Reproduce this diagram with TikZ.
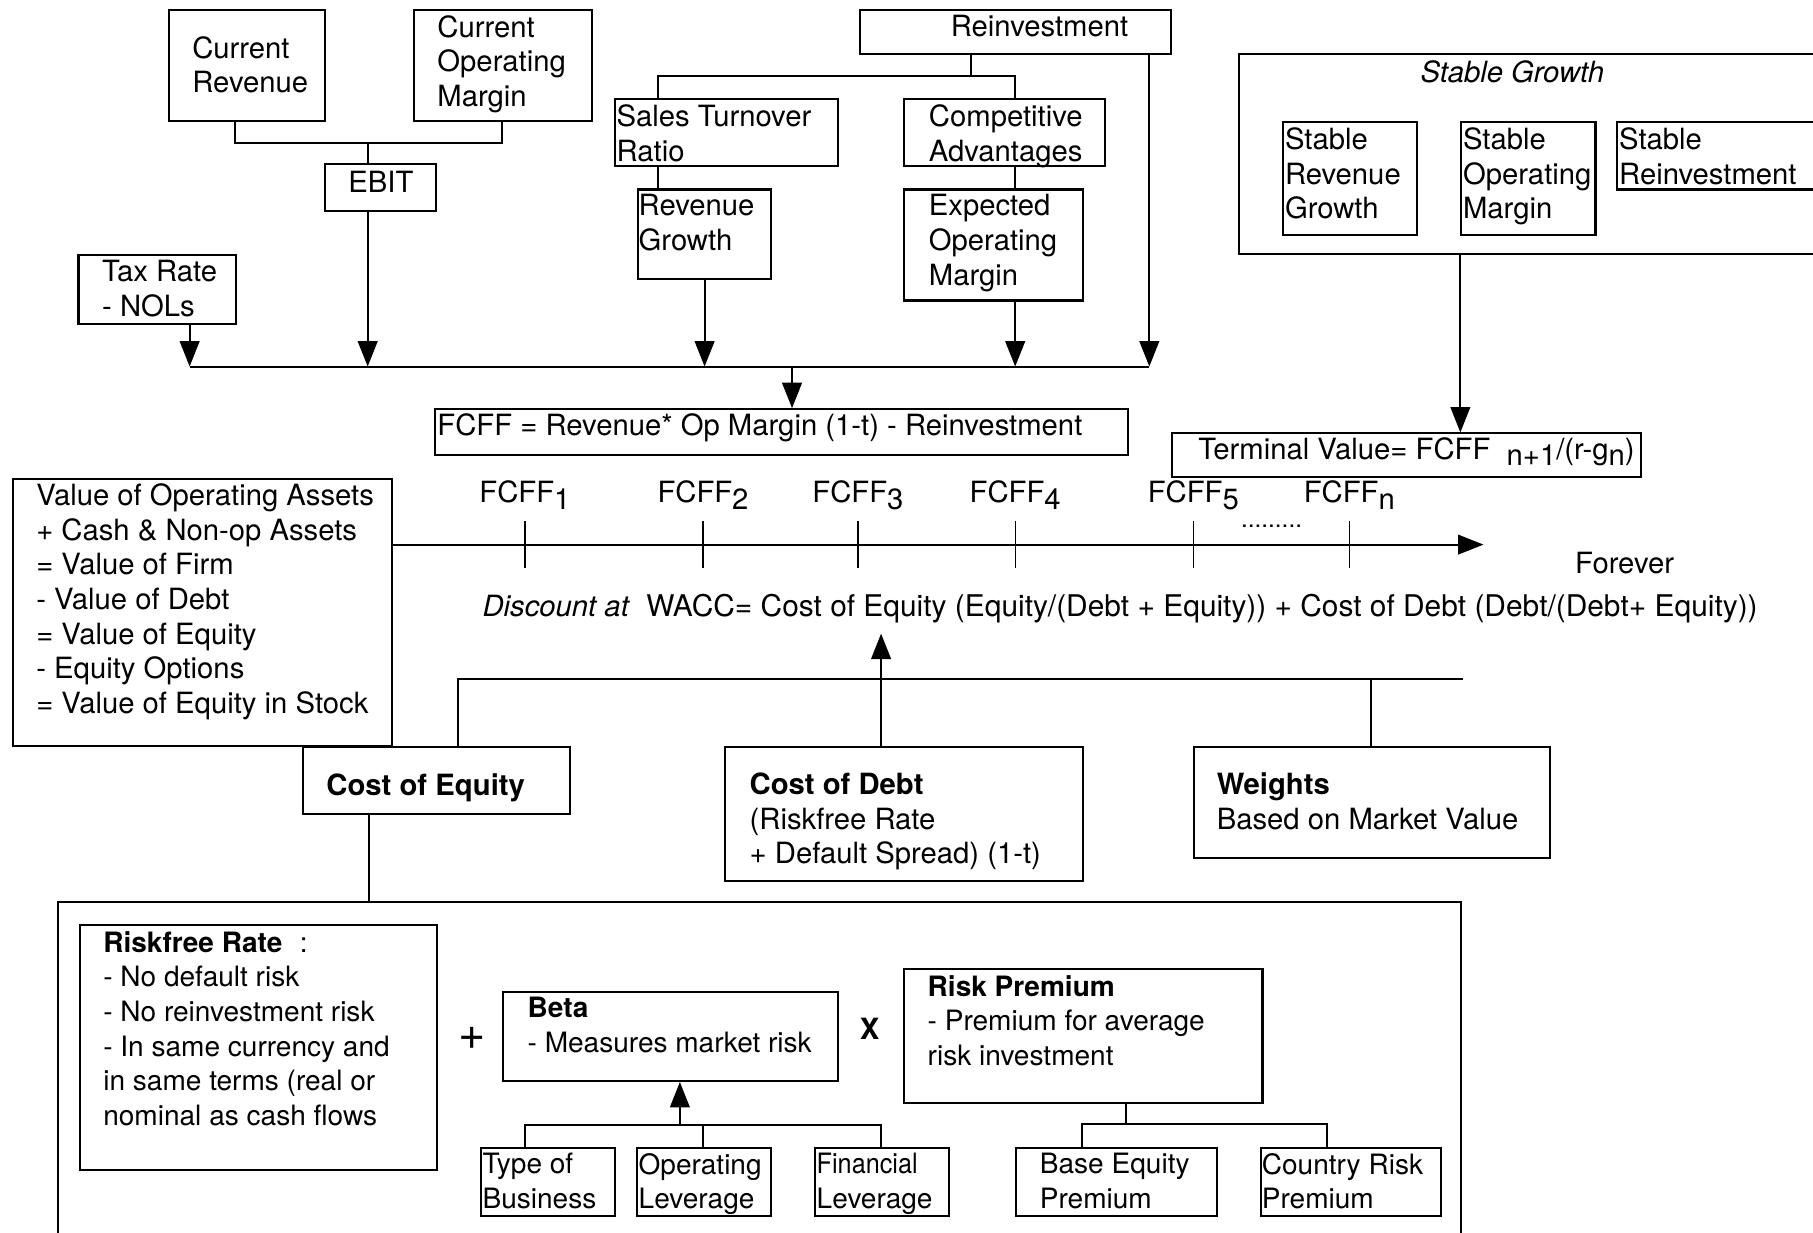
\documentclass[tikz,border=0pt]{standalone}
\usepackage{fontspec}
\setmainfont{TeX Gyre Heros}
\usetikzlibrary{arrows.meta}

\begin{document}
\begin{tikzpicture}[x=0.02cm, y=-0.02cm,
    box/.style 2 args={draw, line width=1pt, minimum width=#1*0.02cm, minimum height=#2*0.02cm, anchor=north west, inner sep=0pt},
    txt/.style={anchor=north west, inner sep=0pt, align=left, font=\fontsize{14.4}{17.07}\selectfont},
    small/.style={font=\fontsize{13.8}{17.07}\selectfont},
    conn/.style={line width=1pt},
    arr/.style={line width=1pt, -{Triangle[length=0.44cm, width=0.34cm]}},
    tick/.style={line width=0.6pt}]
    \useasboundingbox (0,0) rectangle (1568,1066);
    \clip (0,0) rectangle (1568,1066);

    % operating income and reinvestment
    \node[box={135}{96}] (crev) at (145,8) {};
    \node[txt] (crevt) at (166,31) {Current\\Revenue};
    \node[box={154}{96}] (copm) at (357,8) {};
    \node[txt] (copmt) at (378,13) {Current\\Operating\\Margin};
    \node[box={96}{41}] (ebit) at (280,141) {};
    \node[txt] (ebitt) at (301,148) {EBIT};
    \node[box={136}{59}] (taxr) at (67,220) {};
    \node[txt] (taxt) at (88,225) {Tax Rate\\- NOLs};
    \node[box={269}{38}] (reinv) at (743,8) {};
    \node[txt] (reinvt) at (822,13) {Reinvestment};
    \node[box={193}{58}] (str) at (531,85) {};
    \node[txt] (strt) at (533,90) {Sales Turnover\\Ratio};
    \node[box={174}{58}] (cadv) at (781,85) {};
    \node[txt] (cadvt) at (803,90) {Competitive\\Advantages};
    \node[box={115}{77}] (rgr) at (551,163) {};
    \node[txt] (rgrt) at (552,168) {Revenue\\Growth};
    \node[box={155}{96}] (eom) at (781,163) {};
    \node[txt] (eomt) at (803,168) {Expected\\Operating\\Margin};
    \node[box={600}{40}] (fcff) at (375,353) {};
    \node[txt, anchor=base west] (fcfft) at (378,377) {FCFF = Revenue* Op Margin (1-t) - Reinvestment};

    \coordinate (eb1) at (203,124);
    \coordinate (eb2) at (434,124);
    \coordinate (ebj) at (318,124);
    \draw[conn] (crev.south -| eb1) -- (eb1) -- (eb2) -- (copm.south -| eb2);
    \draw[conn] (ebj) -- (ebit.north -| ebj);
    \coordinate (rj0) at (840,66);
    \coordinate (rj1) at (569,66);
    \coordinate (rj2) at (878,66);
    \draw[conn] (reinv.south -| rj0) -- (rj0);
    \draw[conn] (str.north -| rj1) -- (rj1) -- (rj2) -- (cadv.north -| rj2);
    \draw[conn] (str.south -| rj1) -- (rgr.north -| rj1);
    \draw[conn] (cadv.south -| rj2) -- (eom.north -| rj2);

    \coordinate (busl) at (164,317);
    \coordinate (busr) at (994,317);
    \coordinate (fj) at (685,317);
    \draw[conn] (busl) -- (busr);
    \draw[arr] (taxr.south -| busl) -- (busl);
    \draw[arr] (ebit.south -| ebj) -- (ebj |- busl);
    \draw[arr] (rgr) -- (rgr |- busl);
    \draw[arr] (eom.south -| rj2) -- (rj2 |- busl);
    \draw[arr] (reinv.south -| busr) -- (busr);
    \draw[arr] (fj) -- (fcff.north -| fj);

    % stable growth
    \node[box={560}{173}] (sg) at (1071,46) {};
    \node[txt, anchor=center] (sgt) at (1308,62) {\textit{Stable Growth}};
    \node[box={116}{97}] (srg) at (1109,105) {};
    \node[txt] (srgt) at (1111,110) {Stable\\Revenue\\Growth};
    \node[box={116}{97}] (som) at (1263,105) {};
    \node[txt] (somt) at (1265,110) {Stable\\Operating\\Margin};
    \node[box={200}{58}] (srei) at (1398,105) {};
    \node[txt] (sreit) at (1400,110) {Stable\\Reinvestment};
    \node[box={405}{38}] (tv) at (1013,374) {};
    \node[txt, anchor=base west] (tvt) at (1036,397) {Terminal Value= FCFF\ \ \raisebox{-3pt}{n+1}/(r-g\raisebox{-3pt}{n})};
    \draw[arr] (sg.south -| som.south west) -- (tv.north -| som.south west);

    % cash flows and discounting
    \node[box={328}{231}] (val) at (10,413) {};
    \node[txt] (valt) at (31,418) {Value of Operating Assets\\+ Cash \& Non-op Assets\\= Value of Firm\\- Value of Debt\\= Value of Equity\\- Equity Options\\= Value of Equity in Stock};
    \coordinate (tlend) at (1283,471);
    \draw[arr] (val.east |- tlend) -- (tlend);
    \foreach \x/\n in {454/1, 608/2, 742/3, 878/4, 1032/5, 1167/n} {
        \draw[tick] (\x,451) -- (\x,491);
        \node[txt, anchor=base] (cf\n) at (\x,435) {FCFF\raisebox{-3pt}{\n}};
    }
    \node[txt, anchor=base west, font=\fontsize{12}{14}\selectfont] (dots) at (1073,456) {.........};
    \node[txt] (forever) at (1362,477) {Forever};
    \node[txt, anchor=base west] (wacc) at (417,533) {\textit{Discount at}\ \ \fontsize{14.7}{17}\selectfont WACC= Cost of Equity (Equity/(Debt + Equity)) + Cost of Debt (Debt/(Debt+ Equity))};

    \node[box={231}{58}] (coe) at (261,645) {};
    \node[txt] (coet) at (282,669) {\textbf{Cost of Equity}};
    \node[box={310}{116}] (cod) at (626,645) {};
    \node[txt] (codt) at (648,668) {\textbf{Cost of Debt}\\(Riskfree Rate\\+ Default Spread) (1-t)};
    \node[box={308}{96}] (wts) at (1032,645) {};
    \node[txt] (wtst) at (1052,668) {\textbf{Weights}\\Based on Market Value};

    \coordinate (wbl) at (396,587);
    \coordinate (wbr) at (1265,587);
    \coordinate (wj) at (1186,587);
    \coordinate (wtip) at (762,548);
    \draw[conn] (coe.north -| wbl) -- (wbl) -- (wbr);
    \draw[conn] (wj) -- (wts.north -| wj);
    \draw[arr] (cod.north -| wtip) -- (wtip);

    % cost of equity
    \node[box={1214}{330}] (kebox) at (49,779) {};
    \coordinate (cex) at (319,779);
    \draw[conn] (coe.south -| cex) -- (cex);
    \node[box={309}{212}] (rf) at (68,799) {};
    \node[txt, small] (rft) at (89,805) {\textbf{Riskfree Rate}\hspace{0.3cm}:\\- No default risk\\- No reinvestment risk\\- In same currency and\\in same terms (real or\\nominal as cash flows};
    \node[font=\fontsize{23}{26}\selectfont, inner sep=0pt] (plus) at (408,898) {+};
    \node[box={290}{77}] (beta) at (434,857) {};
    \node[txt, small] (betat) at (456,862) {\textbf{Beta}\\- Measures market risk};
    \node[font=\bfseries\fontsize{14.4}{17}\selectfont, inner sep=0pt] (times) at (752,890) {X};
    \node[box={310}{116}] (rp) at (781,837) {};
    \node[txt, small] (rpt) at (802,843) {\textbf{Risk Premium}\\- Premium for average\\risk investment};

    \node[box={116}{59}] (tob) at (415,992) {};
    \node[txt, small] (tobt) at (417,997) {Type of\\Business};
    \node[box={116}{59}] (ol) at (550,992) {};
    \node[txt, small] (olt) at (552,997) {Operating\\Leverage};
    \node[box={116}{59}] (fl) at (704,992) {};
    \node[txt, small] (flt) at (706,997) {\scalebox{0.9}[1]{Financial}\\Leverage};
    \node[box={174}{59}] (bep) at (878,992) {};
    \node[txt, small] (bept) at (899,997) {Base Equity\\Premium};
    \node[box={155}{59}] (crp) at (1090,992) {};
    \node[txt, small] (crpt) at (1091,997) {Country Risk\\Premium};

    \coordinate (bb1) at (454,973);
    \coordinate (bb2) at (762,973);
    \coordinate (bbo) at (608,973);
    \coordinate (bbj) at (588,973);
    \draw[conn] (tob.north -| bb1) -- (bb1) -- (bb2) -- (fl.north -| bb2);
    \draw[conn] (bbo) -- (ol.north -| bbo);
    \draw[arr] (bbj) -- (beta.south -| bbj);
    \coordinate (rb1) at (936,972);
    \coordinate (rb2) at (1148,972);
    \coordinate (rbj) at (974,972);
    \draw[conn] (bep.north -| rb1) -- (rb1) -- (rb2) -- (crp.north -| rb2);
    \draw[conn] (rp.south -| rbj) -- (rbj);
\end{tikzpicture}
\end{document}
